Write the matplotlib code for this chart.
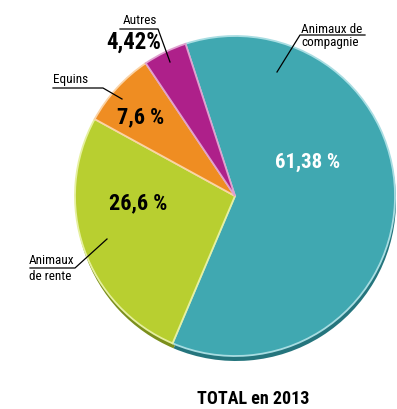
import matplotlib
matplotlib.use("Agg")
import matplotlib.pyplot as plt

categories = ["Animaux de\ncompagnie", "Animaux\nde rente", "Equins", "Autres"]
values = [61.38, 26.6, 7.6, 4.42]
value_labels = ["61,38 %", "26,6 %", "7,6 %", "4,42%"]
title = "TOTAL en 2013"

colors = ["#40a8b1", "#b8cf30", "#ef8d22", "#ae208a"]
dark_colors = ["#25757d", "#7b8f1c", "#b0620f", "#74125a"]
edge_colors = ["#a8dde2", "#e6f0a0", "#fbd3a5", "#e0a0cf"]

plt.rcParams["font.family"] = ["Roboto Condensed", "Archivo Narrow", "DejaVu Sans"]

W, H = 397, 409
fig = plt.figure(figsize=(W / 100, H / 100), dpi=100)
ax = fig.add_axes([0, 0, 1, 1])

def py(y):
    return H - y

cx, cy, r = 235, 196, 160
start = 108

# depth / shadow
ax.pie(values, colors=dark_colors, startangle=start, counterclock=False,
       center=(cx + 1, py(cy + 5)), radius=r, frame=False,
       wedgeprops=dict(linewidth=0))
wedges, _ = ax.pie(values, colors=colors, startangle=start, counterclock=False,
                   center=(cx, py(cy)), radius=r, frame=False,
                   wedgeprops=dict(linewidth=1.3))
for w, ec in zip(wedges, edge_colors):
    w.set_edgecolor(ec)
ax.set_xlim(0, W)
ax.set_ylim(0, H)
ax.set_aspect("equal")
ax.axis("off")

# percentage labels
ax.text(308, py(162), value_labels[0], color="white", fontsize=15, fontweight="bold",
        ha="center", va="center")
ax.text(138, py(203), value_labels[1], color="black", fontsize=16, fontweight="bold",
        ha="center", va="center")
ax.text(141, py(117), value_labels[2], color="black", fontsize=16, fontweight="bold",
        ha="center", va="center")
ax.text(134, py(42), value_labels[3], color="black", fontsize=16.5, fontweight="bold",
        ha="center", va="center")

# category labels with leader lines
lw = 0.9
ax.text(140, py(20), categories[3], fontsize=9.5, ha="center", va="center")
ax.plot([120, 158, 170], [py(29), py(29), py(62)], color="black", lw=lw)

ax.text(53, py(80), categories[2], fontsize=9.5, ha="left", va="center")
ax.plot([53, 103, 122], [py(88), py(88), py(99)], color="black", lw=lw)

ax.text(301, py(36), categories[0], fontsize=9.5, ha="left", va="center", linespacing=1.05)
ax.plot([365, 300, 277], [py(35), py(35), py(72)], color="black", lw=lw)

ax.text(29, py(268), categories[1], fontsize=9.5, ha="left", va="center", linespacing=1.3)
ax.plot([30, 75, 107], [py(268), py(268), py(239)], color="black", lw=lw)

ax.text(253, py(399), title, fontsize=13, fontweight="bold", ha="center", va="center")

fig.savefig("out.png", dpi=100)
